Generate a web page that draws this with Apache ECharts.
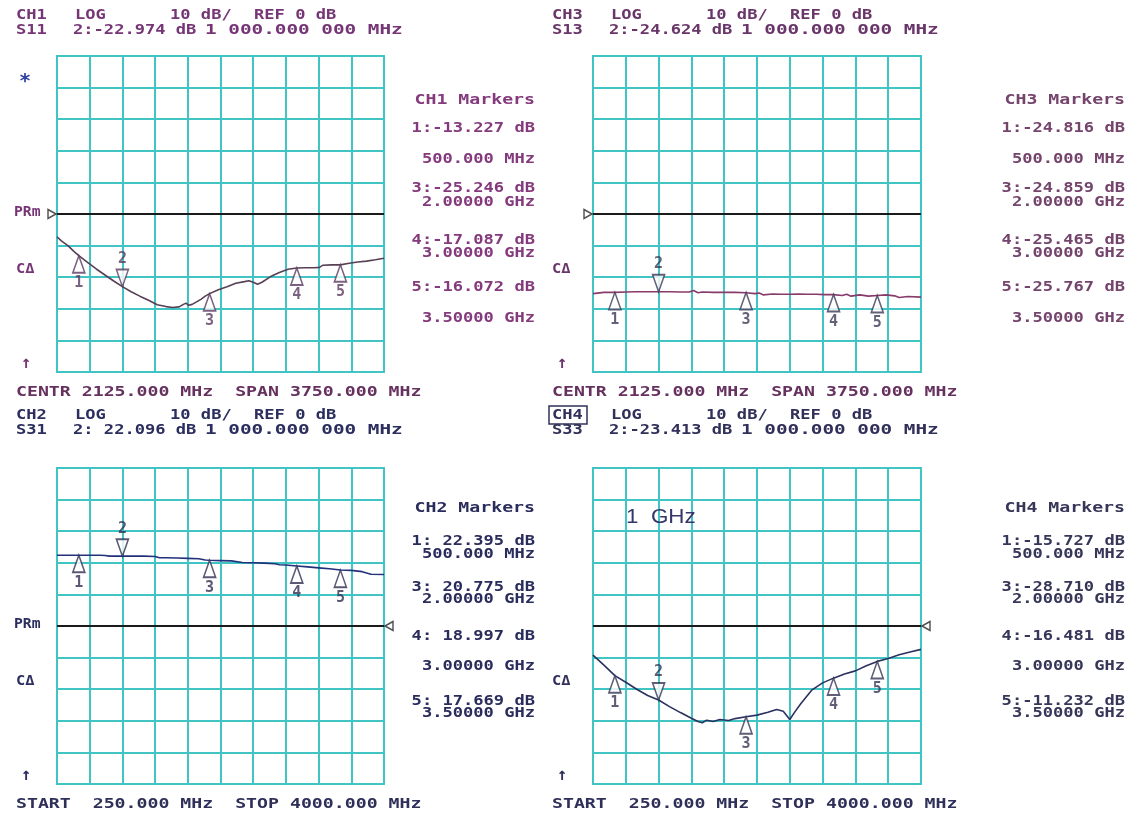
<!DOCTYPE html>
<html><head><meta charset="utf-8">
<script src="https://cdn.jsdelivr.net/npm/echarts@6/dist/echarts.min.js"></script>
<style>html,body{margin:0;padding:0;background:#fff}#c{width:1135px;height:817px}</style>
</head><body><div id="c"></div>
<script>
// ---------------- data ----------------
const freqStartMHz = 250;
const freqStopMHz = 4000;
const dbPerDiv = 10;
const refLevelDb = 0;
const divisionsX = 10;
const divisionsY = 10;
const markerIds = [1, 2, 3, 4, 5];
const markerFreqsMHz = [500, 1000, 2000, 3000, 3500];
const markerFreqLabels = ['500.000 MHz', '1 000.000 000 MHz', '2.00000 GHz', '3.00000 GHz', '3.50000 GHz'];

// CH1  S11
const ch1Freq = [250, 300, 375, 450, 500, 600, 700, 800, 900, 1000, 1100, 1200, 1300, 1400, 1500, 1575, 1650, 1700, 1730, 1760, 1800, 1850, 1900, 1950, 2000, 2100, 2200, 2300, 2400, 2450, 2500, 2550, 2600, 2700, 2800, 2900, 3000, 3100, 3200, 3260, 3300, 3400, 3500, 3600, 3700, 3800, 3900, 4000];
const ch1Db = [-7.2, -8.5, -10.0, -12.0, -13.2, -15.3, -17.4, -19.3, -21.2, -23.0, -24.6, -26.0, -27.3, -28.7, -29.3, -29.6, -29.4, -28.6, -28.2, -28.9, -28.6, -27.8, -27.0, -26.0, -25.2, -24.0, -23.0, -21.9, -21.4, -21.1, -21.6, -22.2, -21.6, -19.8, -18.5, -17.5, -17.1, -17.0, -17.0, -16.9, -16.2, -16.1, -16.1, -15.6, -15.2, -14.9, -14.5, -14.0];
const ch1Markers = [-13.227, -22.974, -25.246, -17.087, -16.072];

// CH2  S31
const ch2Freq = [250, 375, 500, 625, 750, 800, 850, 1000, 1125, 1250, 1375, 1425, 1500, 1625, 1750, 1875, 1950, 2000, 2125, 2250, 2375, 2500, 2625, 2750, 2800, 2875, 3000, 3125, 3250, 3375, 3500, 3625, 3750, 3850, 4000];
const ch2Db = [22.4, 22.4, 22.4, 22.4, 22.4, 22.3, 22.1, 22.1, 22.1, 22.1, 22.0, 21.6, 21.6, 21.5, 21.4, 21.3, 20.9, 20.8, 20.7, 20.6, 20.1, 20.0, 19.9, 19.7, 19.4, 19.3, 19.0, 18.7, 18.4, 18.1, 17.7, 17.6, 17.2, 16.4, 16.3];
const ch2Markers = [22.395, 22.096, 20.775, 18.997, 17.669];

// CH3  S13
const ch3Freq = [250, 375, 500, 625, 750, 875, 1000, 1125, 1250, 1350, 1400, 1450, 1500, 1625, 1750, 1875, 2000, 2100, 2150, 2200, 2300, 2400, 2500, 2600, 2700, 2800, 2900, 3000, 3100, 3150, 3200, 3300, 3400, 3500, 3600, 3700, 3750, 3850, 4000];
const ch3Db = [-25.2, -24.8, -24.8, -24.7, -24.6, -24.6, -24.6, -24.6, -24.7, -24.7, -24.2, -24.9, -24.7, -24.8, -24.8, -24.8, -24.9, -25.2, -25.0, -25.6, -25.3, -25.4, -25.4, -25.3, -25.4, -25.4, -25.5, -25.5, -25.8, -25.4, -26.0, -25.6, -26.0, -25.8, -25.6, -25.9, -26.4, -26.1, -26.3];
const ch3Markers = [-24.816, -24.624, -24.859, -25.465, -25.767];

// CH4  S33
const ch4Freq = [250, 375, 500, 625, 750, 875, 1000, 1125, 1250, 1375, 1450, 1500, 1550, 1625, 1700, 1800, 1875, 2000, 2125, 2250, 2350, 2425, 2500, 2550, 2625, 2750, 2875, 3000, 3125, 3250, 3375, 3500, 3625, 3750, 3875, 4000];
const ch4Db = [-9.2, -12.4, -15.7, -17.8, -20.0, -22.0, -23.4, -25.5, -27.4, -29.2, -30.2, -30.6, -29.8, -30.2, -29.6, -29.9, -29.3, -28.7, -28.2, -27.3, -26.4, -27.0, -29.6, -27.5, -24.6, -20.3, -18.0, -16.5, -15.2, -14.2, -12.6, -11.2, -10.3, -9.1, -8.2, -7.4];
const ch4Markers = [-15.727, -23.413, -28.710, -16.481, -11.232];

const ch4Note = '1  GHz';

// ---------------- layout / style ----------------
const MONO = '"DejaVu Sans Mono", monospace';
const SX = 1.22;
const GRIDC = '#41c4c4';

const panels = [
  {key:'CH1', param:'S11', freq:ch1Freq, db:ch1Db, mk:ch1Markers, gx:57, gy:56, gw:327, gh:316, hdrDy:[-41,-26], footer:'centr',
   trace:'#574055', txt:'#763676', mtxt:'#843a7c', msym:'#5a3b60', foot:'#66305f', star:true, prm:true, refSide:'left', mx:535, rows:'top', box:false},
  {key:'CH2', param:'S31', freq:ch2Freq, db:ch2Db, mk:ch2Markers, gx:57, gy:468, gw:327, gh:316, hdrDy:[-53,-38], footer:'start',
   trace:'#22327a', txt:'#2b2e5e', mtxt:'#2a2d5c', msym:'#303052', foot:'#2f305a', star:false, prm:true, refSide:'right', mx:535, rows:'bottom', box:false},
  {key:'CH3', param:'S13', freq:ch3Freq, db:ch3Db, mk:ch3Markers, gx:593, gy:56, gw:328, gh:316, hdrDy:[-41,-26], footer:'centr',
   trace:'#883a6a', txt:'#6a366a', mtxt:'#74446c', msym:'#3a3a58', foot:'#66305f', star:false, prm:false, refSide:'left', mx:1125, rows:'top', box:false},
  {key:'CH4', param:'S33', freq:ch4Freq, db:ch4Db, mk:ch4Markers, gx:593, gy:468, gw:328, gh:316, hdrDy:[-53,-38], footer:'start',
   trace:'#2b3160', txt:'#30305a', mtxt:'#363658', msym:'#363656', foot:'#2f305a', star:false, prm:false, refSide:'right', mx:1125, rows:'bottom', box:true}
];

const rowY = { top:[44, 72, 103, 132, 146, 184, 197, 231, 262], bottom:[40, 73, 86, 119, 131, 168, 198, 233, 245] };

function fmtDb(v){ return (v < 0 ? '-' : ' ') + Math.abs(v).toFixed(3); }
function fmtMHz(v){ return v.toFixed(3); }

function txt(x, y, s, color, o){
  o = o || {};
  const align = o.align || 'left';
  return {type:'text', x:x, y:y, scaleX:(o.sx != null ? o.sx : SX), z:50, silent:true,
    style:{text:s, font:(o.weight||'bold') + ' ' + (o.size||14) + 'px ' + (o.family||MONO), fill:color,
      textAlign:align, align:align, textVerticalAlign:'middle', verticalAlign:'middle'}};
}

const option = {animation:false, backgroundColor:'#ffffff', grid:[], xAxis:[], yAxis:[], series:[], graphic:{elements:[]}};
const G = option.graphic.elements;
const yMin = refLevelDb - dbPerDiv * divisionsY / 2;
const yMax = refLevelDb + dbPerDiv * divisionsY / 2;

panels.forEach((p, i) => {
  option.grid.push({left:p.gx, top:p.gy, width:p.gw, height:p.gh, show:true, borderColor:GRIDC, borderWidth:2,
    backgroundColor:'transparent', containLabel:false, outerBoundsMode:'none'});
  option.xAxis.push({gridIndex:i, type:'value', min:freqStartMHz, max:freqStopMHz, show:false});
  option.xAxis.push({gridIndex:i, type:'value', min:0, max:divisionsX, interval:1,
    axisLine:{show:false}, axisTick:{show:false}, axisLabel:{show:false},
    splitLine:{show:true, lineStyle:{color:GRIDC, width:2}}});
  option.yAxis.push({gridIndex:i, type:'value', min:yMin, max:yMax, interval:dbPerDiv,
    axisLine:{show:false}, axisTick:{show:false}, axisLabel:{show:false},
    splitLine:{show:true, lineStyle:{color:GRIDC, width:2}}});

  const xi = 2 * i;
  // reference line
  option.series.push({type:'line', xAxisIndex:xi, yAxisIndex:i, silent:true, symbol:'none', z:2,
    data:[[freqStartMHz, refLevelDb], [freqStopMHz, refLevelDb]], lineStyle:{color:'#1a1a1a', width:2}});
  // trace
  option.series.push({type:'line', xAxisIndex:xi, yAxisIndex:i, silent:true, symbol:'none', showSymbol:false, z:3,
    data:p.freq.map((f, k) => [f, p.db[k]]), lineStyle:{color:p.trace, width:1.6}});
  // reference-position arrow
  const left = p.refSide === 'left';
  option.series.push({type:'scatter', xAxisIndex:xi, yAxisIndex:i, silent:true, clip:false, z:4,
    data:[[left ? freqStartMHz : freqStopMHz, refLevelDb]],
    symbol: left ? 'path://M0,0L10,5L0,10Z' : 'path://M10,0L0,5L10,10Z', symbolSize:[8,9],
    symbolOffset: left ? [-5, 0] : [5, 0],
    itemStyle:{color:'#ffffff', borderColor:'#222', borderWidth:1.5}});
  // markers (1,3,4,5 up / 2 down)
  const up = [], dn = [];
  markerIds.forEach((id, k) => {
    const d = {name:String(id), value:[markerFreqsMHz[k], p.mk[k]]};
    (id === 2 ? dn : up).push(d);
  });
  const lbl = {show:true, formatter:'{b}', color:p.msym, fontSize:15, fontWeight:'bold', fontFamily:MONO, distance:2};
  option.series.push({type:'scatter', xAxisIndex:xi, yAxisIndex:i, silent:true, clip:false, z:5, data:up,
    symbol:'path://M6,0L12,16L0,16Z', symbolSize:[12,17], symbolOffset:[0, 8.5],
    itemStyle:{color:'#ffffff', borderColor:p.msym, borderWidth:1.7},
    label:Object.assign({position:'bottom'}, lbl)});
  option.series.push({type:'scatter', xAxisIndex:xi, yAxisIndex:i, silent:true, clip:false, z:5, data:dn,
    symbol:'path://M0,0L12,0L6,16Z', symbolSize:[12,17], symbolOffset:[0, -8.5],
    itemStyle:{color:'#ffffff', borderColor:p.msym, borderWidth:1.7},
    label:Object.assign({position:'top'}, lbl)});

  // ---- header texts ----
  const h1 = p.gy + p.hdrDy[0], h2 = p.gy + p.hdrDy[1];
  G.push(txt(p.gx - 41, h1, p.key, p.txt));
  G.push(txt(p.gx + 18, h1, 'LOG', p.txt));
  G.push(txt(p.gx + 113, h1, dbPerDiv + ' dB/', p.txt));
  G.push(txt(p.gx + 197, h1, 'REF ' + refLevelDb + ' dB', p.txt));
  if (p.box) {
    G.push({type:'rect', z:50, silent:true, shape:{x:p.gx - 44, y:h1 - 9, width:38, height:18},
      style:{fill:'none', stroke:p.txt, lineWidth:1.5}});
  }
  G.push(txt(p.gx - 41, h2, p.param, p.txt));
  G.push(txt(p.gx + 16, h2, '2:' + fmtDb(p.mk[1]) + ' dB', p.txt));
  G.push(txt(p.gx + 148, h2, markerFreqLabels[1], p.txt, {sx:1.38}));

  // ---- footer ----
  const fy = p.gy + p.gh + 20;
  const footerText = p.footer === 'centr'
    ? 'CENTR ' + fmtMHz((freqStartMHz + freqStopMHz) / 2) + ' MHz  SPAN ' + fmtMHz(freqStopMHz - freqStartMHz) + ' MHz'
    : 'START  ' + fmtMHz(freqStartMHz) + ' MHz  STOP ' + fmtMHz(freqStopMHz) + ' MHz';
  G.push(txt(p.gx - 41, fy, footerText, p.foot, {sx:1.3}));

  // ---- left annotations ----
  if (p.star) G.push(txt(p.gx - 38, p.gy + 26, '*', '#2c3fa0', {size:20, sx:1}));
  if (p.prm) G.push(txt(p.gx - 43, p.gy + p.gh / 2 - 2, 'PRm', p.txt, {sx:1.05}));
  G.push(txt(p.gx - 41, p.gy + 213, 'CΔ', p.txt, {sx:1.1}));
  G.push(txt(p.gx - 36, p.gy + p.gh - 8, '↑', p.txt, {sx:1, size:17}));

  // ---- marker table ----
  const ry = rowY[p.rows].map(v => v + p.gy);
  const lines = [p.key + ' Markers',
    '1:' + fmtDb(p.mk[0]) + ' dB', markerFreqLabels[0],
    '3:' + fmtDb(p.mk[2]) + ' dB', markerFreqLabels[2],
    '4:' + fmtDb(p.mk[3]) + ' dB', markerFreqLabels[3],
    '5:' + fmtDb(p.mk[4]) + ' dB', markerFreqLabels[4]];
  lines.forEach((s, k) => G.push(txt(p.mx, ry[k], s, p.mtxt, {align:'right', sx:(k === 0 ? 1.3 : SX)})));
});

// CH4 annotation
G.push(txt(626, 517, ch4Note, '#36366a', {family:'"Liberation Sans", Arial, sans-serif', weight:'normal', size:20, sx:1.12}));

const chart = echarts.init(document.getElementById('c'), null, {renderer:'canvas', width:1135, height:817});
chart.setOption(option);
</script>
</body></html>
